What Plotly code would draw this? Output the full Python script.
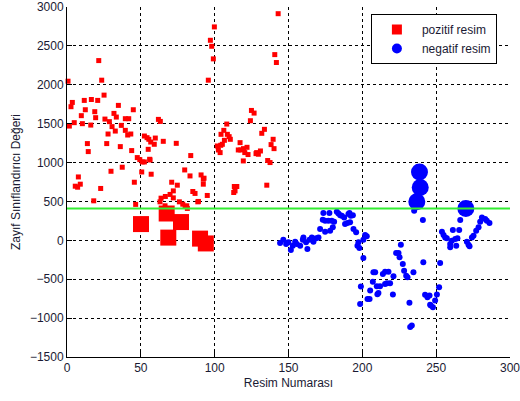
import plotly.graph_objects as go

# ---- data ----
pos_x = [0.7, 21.5, 23.5, 3.6, 2.7, 11.7, 16.5, 20.8, 25.1, 12.4, 18.8, 9.7, 19.4, 34.8, 44.9, 31.8,
         33.4, 1.6, 4.9, 10.4, 16.1, 25.7, 28.7, 30.5, 32.7, 36.8, 39.5, 41.8, 39.5, 41.1, 43.2, 27.8,
         13.8, 14.4, 26.9, 36.1, 43.8, 37.4, 29.8, 7.7, 5.6, 7.2, 9.0, 22.8, 18.1, 45.6, 46.5, 47.6,
         49.3, 51.0, 52.4, 56.0, 50.6, 52.4, 54.2, 55.0, 57.0, 55.4, 56.7, 59.1, 59.8, 61.9, 63.2, 65.2,
         74.0, 56.2, 83.8, 79.7, 83.3, 90.8, 92.8, 70.9, 74.7, 72.0, 69.8, 85.2, 86.7, 92.3, 95.0, 66.6,
         63.7, 72.0, 76.1, 78.4, 81.1, 80.0, 89.0, 63.0, 66.4, 81.5, 92.3, 88.6, 99.8, 97.1, 98.0, 99.1,
         95.7, 101.8, 102.5, 103.7, 104.3, 106.2, 108.6, 109.8, 110.6, 105.2, 104.1, 106.6, 108.2, 117.2,
         116.0, 117.7, 119.5, 121.9, 120.4, 122.6, 128.5, 129.6, 131.0, 128.0, 133.7, 131.9, 139.6, 138.2,
         140.2, 119.4, 135.9, 137.5, 113.3, 115.0, 112.9, 113.8, 135.3, 124.9, 126.7, 124.2, 143.0, 140.7,
         141.8]
pos_y = [2046, 2311, 2059, 1773, 1718, 1799, 1811, 1799, 1867, 1679, 1654, 1603, 1577, 1735, 1679, 1632,
         1585, 1469, 1513, 1500, 1482, 1559, 1526, 1462, 1405, 1478, 1564, 1564, 1414, 1354, 1367, 1367,
         1244, 1141, 1244, 1205, 1154, 940, 888, 815, 696, 683, 722, 667, 508, 747, 462, 1064,
         1038, 1008, 1008, 1042, 879, 1341, 1320, 1170, 850, 1299, 1264, 1235, 1315, 1555, 1529, 1273,
         1247, 1033, 1090, 905, 828, 841, 799, 747, 709, 636, 590, 628, 603, 722, 577, 564,
         542, 546, 495, 465, 444, 436, 500, 495, 444, 410, 786, 495, 2744, 2572, 2495, 2333,
         2059, 1213, 1162, 1128, 1363, 1414, 1363, 1333, 1299, 1235, 1222, 1286, 1495, 1256,
         1162, 1162, 1179, 1196, 1128, 1103, 1128, 1107, 1149, 1115, 1427, 1376, 1299, 1231,
         1179, 1021, 1026, 1000, 692, 692, 615, 636, 709, 1670, 1636, 1538, 2914, 2388,
         2286]

pos_big_x = [50.1, 67.5, 77.2, 68.6, 90.1, 94.0]
pos_big_y = [209, 345, 235, 35, 22, -40]

neg_x = [144.3, 146.5, 148.4, 149.9, 151.6, 152.9, 154.5, 155.6, 157.9, 159.7, 160.1, 161.9, 162.8,
         164.2, 165.8, 166.9, 168.7, 170.3, 171.4, 173.6, 173.2, 174.8, 177.7, 177.0, 179.3, 180.9,
         180.0, 178.2, 174.8, 182.7, 183.8, 185.0, 186.1, 187.7, 190.6, 192.2, 191.3, 193.6, 189.9,
         191.7, 188.3, 194.0, 195.8, 197.4, 196.7, 198.0, 200.7, 201.9, 203.0, 200.7, 199.0, 198.5,
         205.3, 203.5, 204.9, 207.1, 207.5, 208.7, 209.8, 212.0, 210.9, 210.2, 213.9, 215.4, 217.7,
         216.6, 218.8, 215.4, 221.1, 220.7, 222.9, 224.5, 225.2, 226.1, 227.4, 228.3, 229.7, 230.6,
         234.6, 231.9, 232.4, 233.5, 235.1, 241.0, 241.3, 242.5, 244.1, 245.5, 245.9, 247.8, 246.4,
         249.3, 250.5, 252.0, 252.7, 253.9, 255.0, 256.1, 257.2, 259.5, 260.6, 259.5, 261.3, 265.6,
         262.9, 264.4, 263.6, 266.3, 270.8, 271.9, 272.6, 274.2, 275.3, 277.1, 278.7, 279.8, 281.0,
         283.2, 284.3, 286.1]
neg_y = [-35, 8, -47, -26, -124, -69, -18, -47, -69, 8, 38, -26, -112,
         8, 38, -18, 26, 38, 145, 350, 264, 251, 350, 251, 251, 238,
         167, 123, 110, 367, 346, 324, 315, 295, 337, 315, 350, 324, 222,
         231, 209, 145, 103, -26, -69, -99, 8, 68, 51, -227, -595, -817,
         -646, -753, -753, -531, -410, -410, -590, -590, -676, -692, -432, -403, -403,
         -551, -551, -560, -462, -697, -163, -163, -218, -56, -304, -390, -454, -474,
         -410, -804, -1115, -1095, 380, 260, -282, -701, -731, -710, -829, -859, -838,
         -774, -697, -603, -291, 110, 68, 38, 26, -47, -4, -90, 132, 132,
         17, 26, -69, 260, -18, -56, -77, 38, 59, 123, 167, 238, 295,
         273, 251, 222]

neg_big_x = [238.7, 239.2, 236.9, 270.1]
neg_big_y = [879, 679, 495, 410]

threshold = 410
x_range = [0, 300]
y_range = [-1500, 3000]
x_ticks = [0, 50, 100, 150, 200, 250, 300]
y_ticks = [-1500, -1000, -500, 0, 500, 1000, 1500, 2000, 2500, 3000]

labels = ["pozitif resim", "negatif resim"]
x_title = "Resim Numarası"
y_title = "Zayıf Sınıflandırıcı Değeri"

RED = "#ff0000"
BLUE = "#0000ff"
GREEN = "#33ee33"
FONT = "Liberation Sans, Arial, sans-serif"
TEXT = "#1a1a33"

fig = go.Figure()

fig.add_trace(go.Scatter(x=pos_x, y=pos_y, mode="markers", showlegend=False, cliponaxis=False,
                         marker=dict(symbol="square", size=5, color=RED, line=dict(width=0))))
fig.add_trace(go.Scatter(x=pos_big_x, y=pos_big_y, mode="markers", showlegend=False,
                         marker=dict(symbol="square", size=16, color=RED, line=dict(width=0))))
fig.add_trace(go.Scatter(x=neg_x, y=neg_y, mode="markers", showlegend=False,
                         marker=dict(symbol="circle", size=6, color=BLUE, line=dict(width=0))))
fig.add_trace(go.Scatter(x=neg_big_x, y=neg_big_y, mode="markers", showlegend=False,
                         marker=dict(symbol="circle", size=17, color=BLUE, line=dict(width=0))))
fig.add_trace(go.Scatter(x=x_range, y=[threshold, threshold], mode="lines", showlegend=False,
                         line=dict(color=GREEN, width=2)))

# legend entries
fig.add_trace(go.Scatter(x=[None], y=[None], mode="markers", name=labels[0],
                         marker=dict(symbol="square", size=10, color=RED)))
fig.add_trace(go.Scatter(x=[None], y=[None], mode="markers", name=labels[1],
                         marker=dict(symbol="circle", size=10, color=BLUE)))

axis_common = dict(
    showline=True, linecolor="black", linewidth=1,
    ticks="inside", ticklen=5, tickcolor="black",
    showgrid=True, gridcolor="black", gridwidth=1, griddash="3px,3px",
    zeroline=False, automargin=False, ticklabeloverflow="allow",
    tickfont=dict(family=FONT, size=12, color=TEXT),
    title_font=dict(family=FONT, size=12, color=TEXT),
)

fig.update_xaxes(range=x_range, tickvals=x_ticks, title_text=x_title, title_standoff=4, **axis_common)
fig.update_yaxes(range=y_range, tickvals=y_ticks, title_text=y_title, title_standoff=6, **axis_common)

fig.update_layout(
    width=520, height=401,
    margin=dict(l=67, r=10, t=7, b=44),
    paper_bgcolor="white", plot_bgcolor="white",
    font=dict(family=FONT, size=12, color=TEXT),
    legend=dict(x=0.686, y=0.98, xanchor="left", yanchor="top",
                bgcolor="white", bordercolor="black", borderwidth=1,
                font=dict(family=FONT, size=12, color=TEXT),
                itemwidth=40, tracegroupgap=0),
)

fig.write_html("out.html", config={"displayModeBar": False},
               post_script="document.body.style.margin='0';document.body.style.overflow='hidden';")
